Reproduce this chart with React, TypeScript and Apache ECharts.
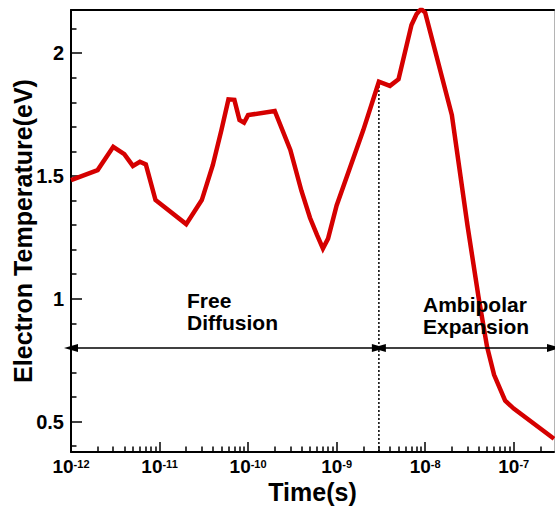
import React, { useEffect, useRef } from "react";
import * as echarts from "echarts";

// ---- data ----
const TIMES = [
  1e-12, 2e-12, 3e-12, 4e-12, 5e-12, 6e-12, 7e-12, 9e-12,
  2e-11, 3e-11, 4e-11, 5e-11, 6e-11, 7e-11, 8e-11, 9e-11,
  1e-10, 2e-10, 3e-10, 4e-10, 5e-10, 6e-10, 7e-10, 8e-10,
  1e-9, 2e-9, 3e-9, 4e-9, 5e-9, 7e-9, 8e-9, 9e-9,
  1e-8, 2e-8, 3e-8, 4e-8, 5e-8, 6e-8, 8e-8, 1e-7, 2.85e-7,
];
const TEMPS = [
  1.483, 1.524, 1.619, 1.589, 1.541, 1.558, 1.547, 1.402,
  1.304, 1.402, 1.545, 1.687, 1.812, 1.81, 1.728, 1.717,
  1.748, 1.765, 1.606, 1.44, 1.33, 1.26, 1.205, 1.245,
  1.38, 1.687, 1.884, 1.867, 1.894, 2.115, 2.16, 2.18,
  2.165, 1.749, 1.30, 1.008, 0.804, 0.69, 0.585, 0.553, 0.43,
];

const X_MIN = 1e-12;
const X_MAX = 2.85e-7;
const Y_MIN = 0.376;
const Y_MAX = 2.176;

const X_MAJOR_TICKS = [1e-12, 1e-11, 1e-10, 1e-9, 1e-8, 1e-7];
const X_MINOR_MULTIPLIERS = [2, 3, 4, 5, 6, 7, 8, 9];
const Y_MAJOR_TICKS = [0.5, 1, 1.5, 2];
const Y_MINOR_TICKS = [0.4, 0.6, 0.7, 0.8, 0.9, 1.1, 1.2, 1.3, 1.4, 1.6, 1.7, 1.8, 1.9, 2.1];

const DIVIDER_TIME = 3e-9; // boundary between regimes
const DIVIDER_TEMP = 1.884;
const ARROW_TEMP = 0.8;

const REGIME_LABELS = ["Free\nDiffusion", "Ambipolar\nExpansion"];

const FONT = "'Liberation Sans', Arial, Helvetica, sans-serif";
const RED = "#d50000";

const xMinorTicks: number[] = [];
X_MAJOR_TICKS.forEach((d) => {
  X_MINOR_MULTIPLIERS.forEach((m) => {
    const v = d * m;
    if (v < X_MAX) xMinorTicks.push(v);
  });
});

export default function App() {
  const ref = useRef<HTMLDivElement>(null);

  useEffect(() => {
    if (!ref.current) return;
    const chart = echarts.init(ref.current, undefined, { renderer: "svg" });

    const baseX = {
      type: "log" as const,
      logBase: 10,
      min: X_MIN,
      max: X_MAX,
      splitLine: { show: false },
      minorTick: { show: false },
      minorSplitLine: { show: false },
    };
    const baseY = {
      type: "value" as const,
      min: Y_MIN,
      max: Y_MAX,
      splitLine: { show: false },
    };

    const option: any = {
      animation: false,
      backgroundColor: "#ffffff",
      grid: {
        left: 71,
        right: 1,
        top: 10,
        bottom: 57,
        containLabel: false,
        outerBoundsMode: "none",
      },
      xAxis: [
        {
          ...baseX,
          position: "bottom",
          name: "Time(s)",
          nameLocation: "middle",
          nameGap: 27,
          nameMoveOverlap: false,
          nameTextStyle: { fontFamily: FONT, fontWeight: "bold", fontSize: 25, color: "#000" },
          axisLine: { show: true, lineStyle: { color: "#000", width: 2 } },
          axisTick: {
            show: true,
            inside: true,
            length: 10,
            customValues: X_MAJOR_TICKS,
            lineStyle: { color: "#000", width: 1.5 },
          },
          axisLabel: {
            show: true,
            customValues: X_MAJOR_TICKS,
            margin: 6,
            formatter: (v: number) => `{b|10}{s|${Math.round(Math.log10(v))}}`,
            rich: {
              b: { fontFamily: FONT, fontWeight: "bold", fontSize: 19, lineHeight: 18, color: "#000", verticalAlign: "bottom" },
              s: { fontFamily: FONT, fontWeight: "bold", fontSize: 11, lineHeight: 11, color: "#000", verticalAlign: "top" },
            },
          },
        },
        {
          ...baseX,
          position: "bottom",
          axisLine: { show: false },
          axisTick: {
            show: true,
            inside: true,
            length: 5.5,
            customValues: xMinorTicks,
            lineStyle: { color: "#000", width: 1.5 },
          },
          axisLabel: { show: false },
        },
        {
          ...baseX,
          position: "top",
          axisLine: { show: true, lineStyle: { color: "#000", width: 2 } },
          axisTick: { show: false },
          axisLabel: { show: false },
        },
      ],
      yAxis: [
        {
          ...baseY,
          position: "left",
          name: "Electron Temperature(eV)",
          nameLocation: "middle",
          nameGap: 36,
          nameMoveOverlap: false,
          nameTextStyle: { fontFamily: FONT, fontWeight: "bold", fontSize: 25, color: "#000" },
          axisLine: { show: true, lineStyle: { color: "#000", width: 2 } },
          axisTick: {
            show: true,
            inside: true,
            length: 11,
            customValues: Y_MAJOR_TICKS,
            lineStyle: { color: "#000", width: 1.5 },
          },
          axisLabel: {
            show: true,
            customValues: Y_MAJOR_TICKS,
            margin: 7,
            fontFamily: FONT,
            fontWeight: "bold",
            fontSize: 20,
            color: "#000",
            formatter: (v: number) => String(v),
          },
        },
        {
          ...baseY,
          position: "left",
          axisLine: { show: false },
          axisTick: {
            show: true,
            inside: true,
            length: 5.5,
            customValues: Y_MINOR_TICKS,
            lineStyle: { color: "#000", width: 1.5 },
          },
          axisLabel: { show: false },
        },
        {
          ...baseY,
          position: "right",
          axisLine: { show: true, lineStyle: { color: "#b4b4b4", width: 1 } },
          axisTick: { show: false },
          axisLabel: { show: false },
        },
      ],
      series: [
        {
          type: "line",
          name: "divider",
          xAxisIndex: 0,
          yAxisIndex: 0,
          data: [
            [DIVIDER_TIME, Y_MIN],
            [DIVIDER_TIME, DIVIDER_TEMP],
          ],
          showSymbol: false,
          symbol: "none",
          silent: true,
          lineStyle: { color: "#000", width: 1.5, type: [2, 2] },
          z: 1,
          markLine: {
            silent: true,
            symbol: ["triangle", "triangle"],
            symbolSize: [8, 14],
            label: { show: false },
            lineStyle: { color: "#000", width: 1.5, type: "solid" },
            emphasis: { disabled: true },
            data: [
              [{ coord: [X_MIN, ARROW_TEMP] }, { coord: [DIVIDER_TIME, ARROW_TEMP] }],
              [{ coord: [DIVIDER_TIME, ARROW_TEMP] }, { coord: [X_MAX, ARROW_TEMP] }],
            ],
          },
        },
        {
          type: "line",
          name: "Electron Temperature",
          xAxisIndex: 0,
          yAxisIndex: 0,
          data: TIMES.map((t, i) => [t, TEMPS[i]]),
          showSymbol: false,
          symbol: "none",
          smooth: false,
          clip: true,
          lineStyle: { color: RED, width: 4.5, join: "miter" },
          z: 3,
        },
      ],
      graphic: [
        {
          type: "text",
          left: 187,
          top: 289,
          style: {
            text: REGIME_LABELS[0],
            font: `bold 21px ${FONT}`,
            lineHeight: 22,
            fill: "#000",
          },
          z: 10,
        },
        {
          type: "text",
          left: 423,
          top: 293,
          style: {
            text: REGIME_LABELS[1],
            font: `bold 21px ${FONT}`,
            lineHeight: 22,
            fill: "#000",
          },
          z: 10,
        },
      ],
    };

    chart.setOption(option);
    return () => chart.dispose();
  }, []);

  return (
    <div
      ref={ref}
      style={{ position: "absolute", left: 0, top: 0, width: 555, height: 509, background: "#fff" }}
    />
  );
}
